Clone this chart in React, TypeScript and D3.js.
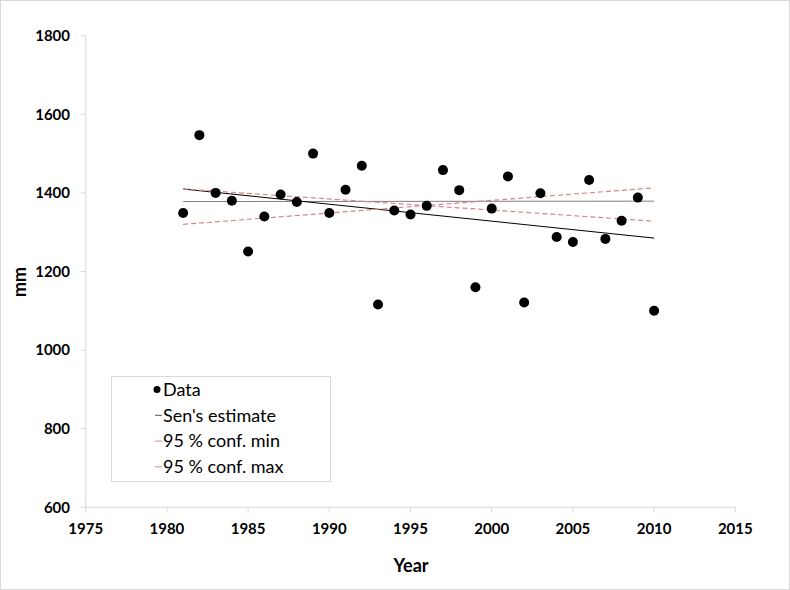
import React from "react";
import * as d3 from "d3";

const years = [1981,1982,1983,1984,1985,1986,1987,1988,1989,1990,1991,1992,1993,1994,1995,1996,1997,1998,1999,2000,2001,2002,2003,2004,2005,2006,2007,2008,2009,2010];
const values = [1349,1547,1400,1380,1251,1340,1396,1377,1500,1349,1408,1469,1116,1355,1345,1367,1458,1407,1160,1360,1442,1121,1399,1288,1275,1433,1283,1329,1388,1100];
const senEstimate = [[1981, 1410], [2010, 1285]];
const meanLine = [[1981, 1378], [2010, 1379]];
const confMin = [[1981, 1410], [2010, 1328]];
const confMax = [[1981, 1320], [2010, 1413]];
const xTicks = [1975,1980,1985,1990,1995,2000,2005,2010,2015];
const yTicks = [600,800,1000,1200,1400,1600,1800];
const legendLabels = ["Data", "Sen's estimate", "95 % conf. min", "95 % conf. max"];

const W = 790, H = 590;
const FONT = "Lato, 'Open Sans', sans-serif";

export default function App() {
  const x = d3.scaleLinear().domain([1975, 2015]).range([85.7, 735.3]);
  const y = d3.scaleLinear().domain([600, 1800]).range([507.3, 35.7]);
  const line = d3.line<number[]>().x(d => x(d[0])).y(d => y(d[1]));
  const axisColor = "#d9d9d9";
  const red = "#d9868a";

  const lx = 111, ly = 376, lw = 219, lh = 105;
  const rowY = (i: number) => 389.5 + i * 25.8;

  return (
    <svg width={W} height={H} style={{ position: "absolute", left: 0, top: 0, background: "#fff" }} fontFamily={FONT}>
      <rect x={0.5} y={0.5} width={W - 1} height={H - 1} fill="#fff" stroke="#d9d9d9" />
      {/* axes */}
      <line x1={x(1975)} x2={x(1975)} y1={y(1800)} y2={y(600)} stroke={axisColor} />
      <line x1={x(1975)} x2={x(2015)} y1={y(600)} y2={y(600)} stroke={axisColor} />
      {yTicks.map(t => (
        <g key={"y" + t}>
          <line x1={x(1975) - 5} x2={x(1975)} y1={y(t)} y2={y(t)} stroke={axisColor} />
          <text x={70} y={y(t)} dy="0.35em" textAnchor="end" fontSize={15} fontWeight="bold" fill="#000">{t}</text>
        </g>
      ))}
      {xTicks.map(t => (
        <g key={"x" + t}>
          <line x1={x(t)} x2={x(t)} y1={y(600)} y2={y(600) + 5} stroke={axisColor} />
          <text x={x(t)} y={529} dy="0.35em" textAnchor="middle" fontSize={15} fontWeight="bold" fill="#000">{t}</text>
        </g>
      ))}
      <text x={411} y={566} dy="0.35em" textAnchor="middle" fontSize={18} fontWeight="bold">Year</text>
      <g transform="translate(20,282)">
        <text transform="rotate(-90)" x={0} y={0} dy="0.35em" textAnchor="middle" fontSize={18} fontWeight="bold">mm</text>
      </g>

      {/* lines */}
      <path d={line(meanLine) || ""} stroke="#7f7f7f" strokeWidth={1} fill="none" />
      <path d={line(senEstimate) || ""} stroke="#000" strokeWidth={1} fill="none" />
      <path d={line(confMin) || ""} stroke={red} strokeWidth={1.2} strokeDasharray="5,3" fill="none" />
      <path d={line(confMax) || ""} stroke={red} strokeWidth={1.2} strokeDasharray="5,3" fill="none" />

      {/* points */}
      {years.map((yr, i) => (
        <circle key={yr} cx={x(yr)} cy={y(values[i])} r={5} fill="#000" />
      ))}

      {/* legend */}
      <rect x={lx + 0.5} y={ly + 0.5} width={lw} height={lh} fill="#fff" stroke="#d9d9d9" />
      {legendLabels.map((lab, i) => (
        <g key={lab}>
          {i === 0 ? (
            <circle cx={157} cy={rowY(i)} r={3.5} fill="#000" />
          ) : (
            <line x1={155} x2={162} y1={rowY(i)} y2={rowY(i)} stroke={i === 1 ? "#555" : red} strokeWidth={1} />
          )}
          <text x={163} y={rowY(i)} dy="0.35em" fontSize={18} fill="#000">{lab}</text>
        </g>
      ))}
    </svg>
  );
}
